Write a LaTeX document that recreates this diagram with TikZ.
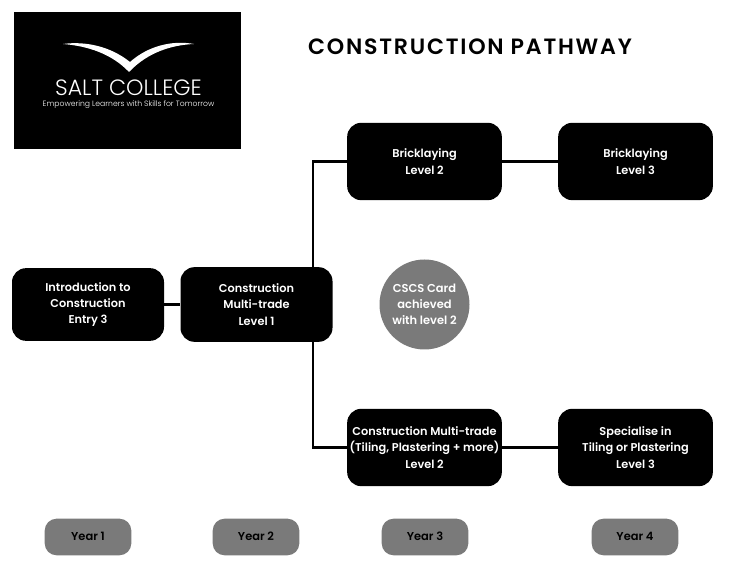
\documentclass[tikz,border=0pt]{standalone}
\usepackage{fontspec}
\setmainfont{Poppins}[BoldFont={Poppins SemiBold}]
\newfontfamily\titlef{Poppins SemiBold}[LetterSpace=8]
\newfontfamily\lightf{Poppins Light}
\definecolor{pillgray}{HTML}{7A7A7A}
\tikzset{
 blackbox/.style={draw=none,fill=black,rounded corners=10.5pt,text=white,align=center,font=\fontsize{8.5}{12.2}\selectfont\bfseries,inner sep=0pt},
 pill/.style={fill=pillgray,rounded corners=9pt,text=black,font=\fontsize{8.6}{10}\selectfont\bfseries,inner sep=0pt,minimum width=65pt,minimum height=27.5pt,text height=6pt,text depth=0.7pt},
 link/.style={line width=2.1pt,draw=black}
}
\begin{document}
\begin{tikzpicture}[x=0.75pt,y=-0.75pt]
\useasboundingbox (0,0) rectangle (754,566);
\fill[white] (0,0) rectangle (754,566);
\coordinate (trunk) at (313,305);
\node[blackbox,minimum width=114pt,minimum height=54.5pt] (intro) at (88,304.5) {Introduction to\\Construction\\Entry 3};
\node[blackbox,minimum width=116pt,minimum height=58pt] (brick2) at (424.5,161.5) {Bricklaying\\Level 2};
\node[blackbox,minimum width=116pt,minimum height=58pt] (brick3) at (635.5,161.5) {Bricklaying\\Level 3};
\node[blackbox,minimum width=116pt,minimum height=58pt] (cm2) at (424.5,447.5) {Construction Multi-trade\\(Tiling, Plastering + more)\\Level 2};
\node[blackbox,minimum width=116pt,minimum height=58pt] (spec) at (635.5,447.5) {Specialise in\\Tiling or Plastering\\Level 3};
\draw[link] (trunk) |- (brick2.west);
\draw[link] (trunk) |- (cm2.west);
\node[blackbox,minimum width=114pt,minimum height=56pt] (multi) at (256.5,304.5) {Construction\\Multi-trade\\Level 1};
\draw[link] (intro) -- (multi);
\draw[link] (brick2.east) -- (brick3.west);
\draw[link] (cm2.east) -- (spec.west);
\node[circle,fill=pillgray,text=white,minimum size=67.5pt,inner sep=0pt,align=center,font=\fontsize{8.6}{12}\selectfont\bfseries] (cscs) at (424.5,304.5) {CSCS Card\\achieved\\with level 2};
\node[pill] (y1) at (88,537) {Year 1};
\node[pill] (y2) at (256,537) {Year 2};
\node[pill] (y3) at (425,537) {Year 3};
\node[pill] (y4) at (635,537) {Year 4};
\node[font=\titlef\fontsize{16.6}{18}\selectfont] (title) at (470,46.5) {CONSTRUCTION PATHWAY};
\node[fill=black,minimum width=170pt,minimum height=103pt,inner sep=0pt] (logo) at (127.5,80.5) {};
\fill[white] (63,44) .. controls (85,41) and (110,46) .. (130,62) .. controls (148,46) and (172,40) .. (194,44) .. controls (172,45) and (148,52) .. (129,72) .. controls (112,54) and (88,46) .. (63,44) -- cycle;
\node[text=white,font=\lightf\fontsize{16.6}{18}\selectfont] (salt) at (128.5,88) {SALT COLLEGE};
\node[text=white,font=\lightf\fontsize{5.75}{8}\selectfont] (tag) at (128.5,105) {Empowering Learners with Skills for Tomorrow};
\end{tikzpicture}
\end{document}
